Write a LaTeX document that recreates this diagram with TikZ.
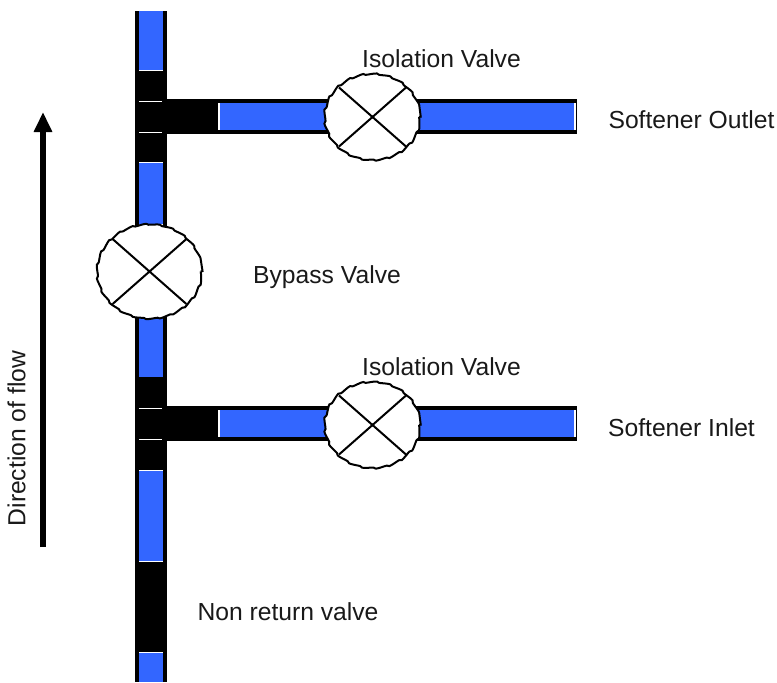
\documentclass[tikz,border=0pt]{standalone}
\usepackage{fontspec}
\setmainfont{Liberation Sans}
\usetikzlibrary{arrows.meta,decorations.pathmorphing}

\definecolor{pipeblue}{RGB}{51,102,255}
\tikzset{
  label/.style={font=\fontsize{18.5}{22}\selectfont, text=black!90, inner sep=0pt},
  valve/.pic={
    \draw[line width=1.5pt, fill=white, decorate, decoration={bumps, segment length=20pt, amplitude=0.35pt}]
      (0,0) ellipse [x radius=46.5, y radius=42];
    \draw[line width=1.5pt] (-33.5,-29.5) -- (33.5,29.5) (-33.5,29.5) -- (33.5,-29.5);
  },
}

\begin{document}
\begin{tikzpicture}[x=0.75pt,y=-0.75pt]
  \useasboundingbox (0,0) rectangle (777,682);

  % Main pipe walls
  \fill (135,11) rectangle (167,682);

  % Main pipe water
  \fill[white] (139,11) rectangle (162.5,682);
  \fill[pipeblue] (139,11) rectangle (162.5,70);
  \fill (139,71) rectangle (162.5,101);
  \fill (139,102) rectangle (167,132);
  \fill (139,133) rectangle (162.5,162);
  \fill[pipeblue] (139,163) rectangle (162.5,224);
  \fill[pipeblue] (139,318) rectangle (162.5,377);
  \fill (139,377) rectangle (162.5,408);
  \fill (139,409) rectangle (167,439);
  \fill (139,440) rectangle (162.5,469.5);
  \fill[pipeblue] (139,470.5) rectangle (162.5,561);
  \fill (139,562) rectangle (162.5,652);
  \fill[pipeblue] (139,653) rectangle (162.5,682);

  % Branch pipes
  \foreach \y in {99,406} {
    \fill (162,\y) rectangle (577,\y+35);
    \fill[white] (218,\y+4) rectangle (575.5,\y+31);
    \fill[pipeblue] (219.5,\y+4) rectangle (574,\y+31);
  }

  % Valves
  \pic[scale=1.1] at (149.5,271.5) {valve};
  \pic at (372.5,117) {valve};
  \pic at (372.5,425) {valve};

  % Labels
  \node[label] (isoTop) at (441.5,59) {Isolation Valve};
  \node[label] (isoBot) at (441.5,367) {Isolation Valve};
  \node[label] (bypass) at (327,277) {Bypass Valve};
  \node[label] (outlet) at (691.5,120) {Softener Outlet};
  \node[label] (inlet) at (681.5,428) {Softener Inlet};
  \node[label] (nonret) at (288,612) {Non return valve};
  \node[label, rotate=90] (flow) at (16.5,438.5) {Direction of flow};

  % Flow arrow
  \coordinate (flowStart) at (43,547);
  \coordinate (flowEnd) at (43,112);
  \draw[line width=4pt, -{Triangle[length=15pt,width=13pt]}] (flowStart) -- (flowEnd);
\end{tikzpicture}
\end{document}
